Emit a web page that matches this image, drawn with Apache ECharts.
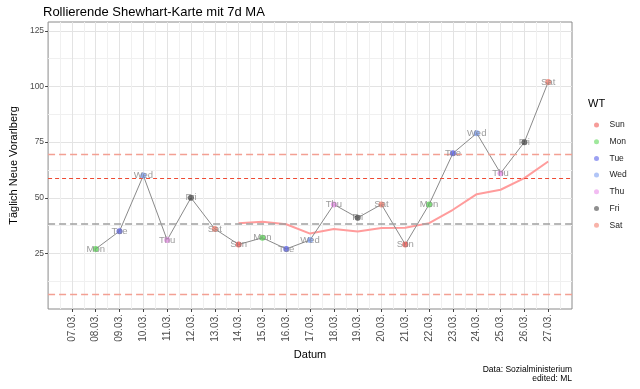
<!DOCTYPE html>
<html><head><meta charset="utf-8">
<script src="https://cdn.jsdelivr.net/npm/echarts@6/dist/echarts.min.js"></script>
<style>html,body{margin:0;padding:0;background:#fff}#c{width:640px;height:389px}</style>
</head><body><div id="c"></div>
<script>
// ---- data ----
const days = [8,9,10,11,12,13,14,15,16,17,18,19,20,21,22,23,24,25,26,27];
const weekdays = ['Mon','Tue','Wed','Thu','Fri','Sat','Sun','Mon','Tue','Wed','Thu','Fri','Sat','Sun','Mon','Tue','Wed','Thu','Fri','Sat'];
const values = [27,35,60,31,50,36,29,32,27,31,47,41,47,29,47,70,79,61,75,102];
const ma7 = [null,null,null,null,null,null,38.5,39.2,38.1,33.9,36.0,34.8,36.4,36.5,38.6,44.6,51.6,53.6,58.8,66.3];
const centerLine = 38.1;
const twoSigma = 58.9;
const ucl = 69.5;
const lcl = 6.7;
const legendOrder = ['Sun','Mon','Tue','Wed','Thu','Fri','Sat'];
const wdColors = {Sun:'#f05a55',Mon:'#5fd85a',Tue:'#5a62ea',Wed:'#7d9ff2',Thu:'#ea90ea',Fri:'#454545',Sat:'#f4806f'};
const xTicks = [7,8,9,10,11,12,13,14,15,16,17,18,19,20,21,22,23,24,25,26,27];
const yTicks = [25,50,75,100,125];

const FONT = 'Liberation Sans, Arial, Helvetica, sans-serif';
const LABEL_GRAY = '#838383';
const chart = echarts.init(document.getElementById('c'), null, {renderer:'canvas'});

const pointSeries = legendOrder.map(name => ({
  name, type:'scatter', z:5,
  symbol:'circle', symbolSize:6,
  itemStyle:{color:wdColors[name]},
  emphasis:{disabled:true},
  data: days.map((d,i)=>({d,i})).filter(o=>weekdays[o.i]===name).map(o=>[o.d, values[o.i]])
}));

const labelSeries = {
  name:'_labels', type:'scatter', z:6, silent:true,
  symbol:'circle', symbolSize:1,
  itemStyle:{color:'rgba(0,0,0,0)'},
  emphasis:{disabled:true},
  label:{show:true, position:'inside', color:LABEL_GRAY, fontSize:9.5, fontFamily:FONT,
    formatter:p=>weekdays[p.dataIndex]},
  labelLayout:{hideOverlap:false},
  data: days.map((d,i)=>({value:[d, values[i]], label:{offset:[0, -0.1*values[i]]}}))
};

const option = {
  animation:false,
  textStyle:{fontFamily:FONT},
  grid:{left:43, right:68, top:22, bottom:80, show:true, borderColor:'#8a8a8a', borderWidth:1, backgroundColor:'#fff'},
  xAxis:{
    type:'value', min:6, max:28, interval:1,
    name:'Datum', nameLocation:'middle', nameGap:40,
    nameTextStyle:{fontSize:11, color:'#000', fontFamily:FONT},
    axisLine:{show:false},
    axisTick:{show:true, length:3, lineStyle:{color:'#444'}, customValues:xTicks},
    axisLabel:{rotate:90, margin:5, fontSize:10, color:'#4d4d4d', fontFamily:FONT, customValues:xTicks,
      formatter:v=> (v<10?'0':'')+v+'.03.'},
    splitLine:{show:true, lineStyle:{color:'#e3e3e3', width:1}},
    minorTick:{show:false, splitNumber:2},
    minorSplitLine:{show:true, lineStyle:{color:'#f0f0f0', width:1}}
  },
  yAxis:{
    type:'value', min:0, max:129, interval:25,
    name:'Täglich Neue Vorarlberg', nameLocation:'middle', nameGap:18, nameRotate:90,
    nameTextStyle:{fontSize:11, color:'#000', fontFamily:FONT},
    axisLine:{show:false},
    axisTick:{show:true, length:3, lineStyle:{color:'#444'}, customValues:yTicks},
    axisLabel:{margin:4, fontSize:8.5, color:'#4d4d4d', fontFamily:FONT, customValues:yTicks},
    splitLine:{show:true, lineStyle:{color:'#e3e3e3', width:1}},
    minorTick:{show:false, splitNumber:2},
    minorSplitLine:{show:true, lineStyle:{color:'#f0f0f0', width:1}}
  },
  legend:{
    orient:'vertical', left:589, top:115,
    itemWidth:16, itemHeight:5, itemGap:6.7, icon:'circle',
    itemStyle:{opacity:0.6},
    textStyle:{fontSize:8.5, color:'#222', fontFamily:FONT, lineHeight:10},
    data:legendOrder
  },
  title:{text:'Rollierende Shewhart-Karte mit 7d MA', left:38, top:1,
    textStyle:{fontSize:13, fontWeight:'normal', color:'#000', fontFamily:FONT}},
  graphic:[
    {type:'text', left:588, top:98, style:{text:'WT', fontSize:11, fill:'#000', fontFamily:FONT}},
    {type:'text', right:68, top:365, style:{text:'Data: Sozialministerium', fontSize:8.5, fill:'#000', fontFamily:FONT}},
    {type:'text', right:68, top:374, style:{text:'edited: ML', fontSize:8.5, fill:'#000', fontFamily:FONT}}
  ],
  series:[
    {type:'line', name:'limits', data:[], z:2, silent:true,
      markLine:{silent:true, symbol:'none', label:{show:false},
        data:[
          {yAxis:ucl, lineStyle:{color:'#f3a093', type:[7,4], width:1.4}},
          {yAxis:lcl, lineStyle:{color:'#f3a093', type:[7,4], width:1.4}},
          {yAxis:twoSigma, lineStyle:{color:'#ee4a33', type:[4,3], width:1}},
          {yAxis:centerLine, lineStyle:{color:'#a0a0a0', type:[7,4], width:1.6}}
        ]}},
    {type:'line', name:'ma', z:3, showSymbol:false, symbol:'none',
      lineStyle:{color:'#ff9c9c', width:2},
      data: days.map((d,i)=>[d, ma7[i]]).filter(p=>p[1]!==null)},
    {type:'line', name:'conn', z:4, showSymbol:false, symbol:'none',
      lineStyle:{color:'#8a8a8a', width:1},
      data: days.map((d,i)=>[d, values[i]])},
    ...pointSeries,
    labelSeries
  ]
};
chart.setOption(option);
</script></body></html>
